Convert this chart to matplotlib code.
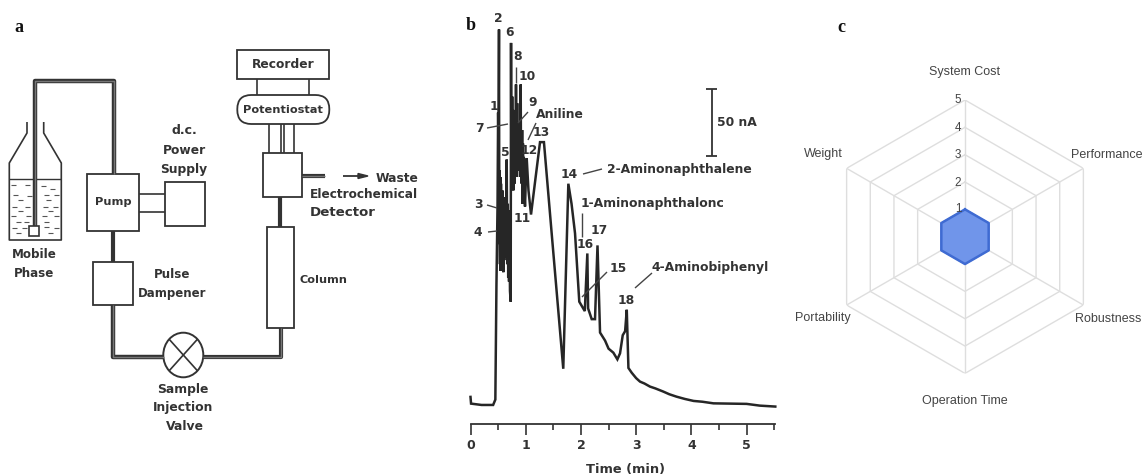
import numpy as np
import matplotlib
matplotlib.use("Agg")
import matplotlib.pyplot as plt
from matplotlib.patches import Rectangle, Ellipse, FancyBboxPatch

W, H = 1143, 476

# chromatogram, time (min) and current (nA)
time_min = [0, 0.01, 0.2, 0.41, 0.45, 0.47, 0.49, 0.5, 0.505, 0.51, 0.516, 0.522, 0.528, 0.534, 0.54, 0.546, 0.552, 0.558,
            0.564, 0.57, 0.576, 0.582, 0.588, 0.594, 0.602, 0.61, 0.618, 0.625, 0.64, 0.656, 0.665, 0.675, 0.683, 0.69,
            0.698, 0.705, 0.715, 0.728, 0.734, 0.74, 0.745, 0.75, 0.755, 0.762, 0.77, 0.775, 0.78, 0.785, 0.79, 0.795,
            0.80, 0.805, 0.81, 0.817, 0.824, 0.83, 0.835, 0.84, 0.845, 0.85, 0.855, 0.866, 0.875, 0.88, 0.89, 0.9,
            0.909, 0.915, 0.92, 0.928, 0.935, 0.942, 0.95, 0.958, 0.965, 0.975, 0.987, 1.0, 1.018, 1.05, 1.096,
            1.18, 1.259, 1.33, 1.47, 1.68, 1.772, 1.83, 1.893, 1.97, 2.07, 2.116, 2.13, 2.195, 2.255, 2.30, 2.346,
            2.437, 2.50, 2.587, 2.66, 2.708, 2.757, 2.80, 2.83, 2.86, 2.92, 3.0, 3.07, 3.15, 3.25, 3.35, 3.49, 3.6,
            3.73, 3.88, 4.04, 4.2, 4.4, 4.7, 5.0, 5.24, 5.52]
current_na = [6, 1, 0, 0, 4, 90, 150, 218, 200, 218, 280, 120, 175, 105, 170, 100, 165, 110, 150, 105, 160, 100, 145, 99,
              155, 108, 150, 110, 130, 183, 105, 150, 95, 145, 92, 135, 85, 77, 270, 170, 225, 165, 230, 170, 215,
              160, 220, 170, 210, 165, 215, 175, 205, 170, 239, 178, 215, 170, 225, 175, 205, 178, 210, 175, 205, 170,
              239, 175, 205, 165, 205, 150, 195, 150, 185, 160, 148, 165, 184, 160, 142,
              170, 196, 196, 128, 27, 165, 150, 128, 77, 70, 113, 72, 64, 64, 119, 54,
              48, 42, 39, 34, 38.5, 52, 55, 71, 27.6, 24, 20, 17.4, 16, 13.7, 12.3, 10, 8,
              6.2, 4.5, 3, 2.4, 1.2, 1, 0.8, -0.5, -1.2]
x_ticks = [0, 1, 2, 3, 4, 5]
x_minor = [0.5, 1.5, 2.5, 3.5, 4.5, 5.5]

# radar
radar_labels = ["System Cost", "Performance", "Robustness", "Operation Time", "Portability", "Weight"]
radar_values = [1, 1, 1, 1, 1, 1]
radar_levels = [1, 2, 3, 4, 5]

fig = plt.figure(figsize=(W / 100, H / 100), dpi=100)
fig.patch.set_facecolor("white")

# panel b axes
bx = fig.add_axes([470.5 / W, 1 - 424 / H, (775.3 - 470.5) / W, 424 / H])
bx.set_xlim(0, 5.52)
bx.set_ylim(-14.2, 302)
bx.plot(time_min, current_na, color="#262626", lw=1.8, solid_joinstyle="miter", clip_on=False)
for s in ["top", "left", "right"]:
    bx.spines[s].set_visible(False)
bx.spines["bottom"].set_color("#333333")
bx.spines["bottom"].set_linewidth(1.3)
bx.patch.set_alpha(0)
bx.set_yticks([])
bx.set_xticks(x_ticks)
bx.set_xticks(x_minor, minor=True)
bx.tick_params(axis="x", which="major", length=8, width=1.2, color="#333333", pad=2.5, labelsize=9,
               labelcolor="#333333")
bx.tick_params(axis="x", which="minor", length=4, width=1.2, color="#333333")
for t in bx.get_xticklabels():
    t.set_fontweight("bold")

# panel c axes
cx = fig.add_axes([828.3 / W, 1 - 373.4 / H, 273.4 / W, 273.4 / H], projection="polar")
cx.set_theta_zero_location("N")
cx.set_theta_direction(-1)
cx.set_rlim(0, 5)
cx.axis("off")
ang = np.deg2rad(np.arange(0, 360, 60))
ang_c = np.append(ang, ang[0])
for lev in radar_levels:
    cx.plot(ang_c, [lev] * 7, color="#dedede", lw=1)
for a in ang:
    cx.plot([a, a], [0, radar_levels[-1]], color="#dedede", lw=1)
vals = radar_values + radar_values[:1]
cx.fill(ang_c, vals, color="#7095ea", zorder=3)
cx.plot(ang_c, vals, color="#3f6bd2", lw=1.8, zorder=4)

# overlay in pixels for the diagram and notes
ax = fig.add_axes([0, 0, 1, 1])
ax.set_xlim(0, W)
ax.set_ylim(H, 0)
ax.axis("off")
ax.patch.set_alpha(0)

ink = "#333333"


def ln(xs, ys, lw=1.2, c=ink):
    ax.plot(xs, ys, color=c, lw=lw, solid_capstyle="butt")


def box(x0, y0, x1, y1):
    ax.add_patch(Rectangle((x0, y0), x1 - x0, y1 - y0, fc="none", ec=ink, lw=1.3))


def txt(x, y, s, size=7.4, ha="center", c="#333333", weight="bold", fam="DejaVu Sans"):
    ax.text(x, y, s, fontsize=size, ha=ha, va="center", color=c, fontweight=weight, family=fam)


# bottle
ln([27, 27, 9.3, 9.3, 61.3, 61.3, 43.7, 43.7], [122, 133, 163, 240, 240, 163, 133, 122])
ln([9.3, 61.3], [179, 179], 1.0)
dashes = [(13, 185), (27, 185), (43, 186), (52, 189), (15, 195), (29, 196), (46, 195), (56, 195), (20, 200),
          (48, 200), (14, 207), (27, 207), (45, 207), (55, 207), (20, 211), (50, 211), (13, 216), (28, 216),
          (44, 216), (56, 216), (18, 222), (26, 222), (46, 222), (14, 228), (24, 228), (46, 227), (56, 228),
          (18, 233), (50, 233)]
for dx, dy in dashes:
    ln([dx - 2.5, dx + 2.5], [dy, dy], 0.8, "#555555")
# tubes
ln([35, 35, 113.5, 113.5], [227, 81, 81, 174], 3.2)
ln([35, 35, 113.5, 113.5], [227, 81, 81, 174], 1.0, "#777777")
ax.add_patch(Rectangle((29, 226), 10, 10, fc="white", ec=ink, lw=1.2, zorder=3))
box(86.7, 174, 139.3, 231)
ln([139, 165], [194, 194])
ln([139, 165], [211.7, 211.7])
box(165, 182, 205, 226)
ln([113, 113], [231, 262], 3)
box(93.3, 261.7, 132.7, 305)
ln([113, 113, 163.5], [305, 356.7, 356.7], 3.2)
ln([113, 113, 163.5], [305, 356.7, 356.7], 1.0, "#777777")
ax.add_patch(Ellipse((183.3, 355), 40, 44.6, fc="none", ec=ink, lw=1.4))
k = 0.707
ln([183.3 - 20 * k, 183.3 + 20 * k], [355 - 22.3 * k, 355 + 22.3 * k])
ln([183.3 - 20 * k, 183.3 + 20 * k], [355 + 22.3 * k, 355 - 22.3 * k])
ln([203, 281, 281], [357, 357, 328], 3)
ln([203, 281, 281], [357, 357, 328], 1.0, "#777777")
box(266.7, 226.7, 294.3, 328)
ln([280, 280], [196.7, 226.7], 3)
box(262.7, 153.3, 302.3, 196.7)
ln([302, 325], [175.5, 175.5], 3)
ln([302, 325], [175.5, 175.5], 1.0, "#777777")
ln([343, 360], [176, 176], 1.3)
ax.fill([368, 358, 358], [176, 173.5, 178.5], color=ink)
ax.add_patch(FancyBboxPatch((237.3, 95), 92, 29, boxstyle="round,pad=0,rounding_size=14", fc="none", ec=ink, lw=1.3))
for xl in [269, 281, 283.5, 294]:
    ln([xl, xl], [124, 153])
box(236.7, 50, 329.3, 79)
ln([257.3, 257.3], [79, 95])
ln([309, 309], [79, 95])

txt(283, 64.7, "Recorder", 8.8)
txt(283, 110, "Potentiostat", 8.2)
txt(184, 131, "d.c.", 9)
txt(184, 150, "Power", 8.8)
txt(184, 169.5, "Supply", 8.8)
txt(113, 202, "Pump", 8.2)
txt(34, 255, "Mobile", 8.6)
txt(34, 273.5, "Phase", 8.6)
txt(172, 274, "Pulse", 8.6)
txt(172, 293, "Dampener", 8.5)
txt(323, 280, "Column", 8.1)
txt(183, 389, "Sample", 8.9)
txt(183, 408, "Injection", 8.9)
txt(185, 427, "Valve", 8.9)
txt(397, 178, "Waste", 8.8)
txt(364, 194, "Electrochemical", 8.7)
txt(310, 212, "Detector", 9.6, ha="left")

# panel b notes
notes = [(498.5, 18, "2"), (510, 32, "6"), (518, 57, "8"), (527, 76, "10"), (533, 103, "9"), (494, 107, "1"),
         (479, 129, "7"), (541, 132, "13"), (529, 150, "12"), (505, 152, "5"), (569, 175, "14"), (478, 204, "3"),
         (522, 219, "11"), (478, 233, "4"), (599, 231, "17"), (585, 245, "16"), (618, 268, "15"), (626, 301, "18"),
         (560, 115, "Aniline"), (679, 170, "2-Aminonaphthalene"), (653, 203, "1-Aminonaphthalonc"),
         (710, 268, "4-Aminobiphenyl"), (737, 123, "50 nA")]
for nx, ny, s in notes:
    txt(nx, ny, s, 8.9)
txt(625, 469, "Time (min)", 9.4)
leaders = [((487, 508), (128, 124)), ((487, 497), (205, 208)), ((488, 497), (232, 231)), ((528, 518), (112, 123)),
           ((536, 528), (123, 140)), ((583, 602), (174, 169)), ((516, 516), (67, 83)), ((582, 582), (213, 237)),
           ((582, 607), (297, 272)), ((635, 652), (288, 273))]
for xs, ys in leaders:
    ln(xs, ys, 1.0, "#444444")
ln([712, 712], [89, 156], 1.3)
ln([706, 717], [89, 89], 1.3)
ln([706, 717], [156, 156], 1.3)

# panel c notes
radar_pos = [(965, 72), (1107, 155), (1108, 319), (965, 400.7), (823, 318), (823, 154)]
for (rx, ry), s in zip(radar_pos, radar_labels):
    txt(rx, ry, s, 9, c="#444444", weight="normal", fam="Liberation Sans")
for lev, ry in zip(radar_levels, [209, 183, 155, 128, 100]):
    txt(958, ry, str(lev), 8.4, c="#444444", weight="normal", fam="Liberation Sans")

# panel letters
for lx, ly, s in [(19, 27, "a"), (471, 26, "b"), (841, 27, "c")]:
    txt(lx, ly, s, 13, c="#111111", fam="Liberation Serif")

fig.savefig("out.png", dpi=100)
